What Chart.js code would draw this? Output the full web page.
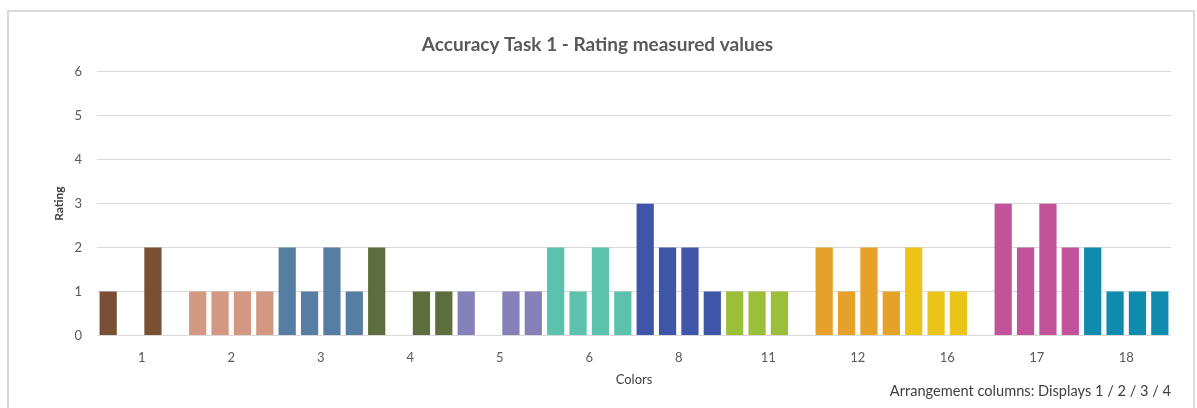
<!DOCTYPE html>
<html lang="en">
<head>
    <meta charset="UTF-8">
    <title>Accuracy Task 1 - Rating measured values</title>
    <script src="https://cdn.jsdelivr.net/npm/chart.js"></script>
    <style>
        html, body { margin: 0; padding: 0; background: #fff; }
        #wrap { position: relative; width: 1197px; height: 408px; }
        #frame {
            position: absolute; left: 7px; top: 10px; width: 1184px; height: 400px;
            border: 2px solid #d9d9d9; border-bottom: none; pointer-events: none;
        }
    </style>
</head>
<body>
    <div id="wrap">
        <canvas id="barChart" width="1197" height="408"></canvas>
        <div id="frame"></div>
    </div>
    <script>
        // colour numbers on the x axis
        const colorLabels = ['1', '2', '3', '4', '5', '6', '8', '11', '12', '16', '17', '18'];
        // one bar colour per colour number
        const barColors = ['#7a5034', '#d39882', '#567ea3', '#5d6e3c', '#8680b8', '#5cc2ad',
                           '#3f56a8', '#9cbf3b', '#e6a12a', '#ecc419', '#c2529a', '#0f8bae'];
        // ratings per display (arrangement columns 1/2/3/4)
        const display1 = [1, 1, 2, 2, 1, 2, 3, 1, 2, 2, 3, 2];
        const display2 = [0, 1, 1, 0, 0, 1, 2, 1, 1, 1, 2, 1];
        const display3 = [2, 1, 2, 1, 1, 2, 2, 1, 2, 1, 3, 1];
        const display4 = [0, 1, 1, 1, 1, 1, 1, 0, 1, 0, 2, 1];
        const yTicks = [0, 1, 2, 3, 4, 5, 6];

        const font = 'Lato, "Open Sans", sans-serif';
        const grey = '#595959';

        const makeSet = (name, values) => ({
            label: name,
            data: values,
            backgroundColor: barColors,
            borderWidth: 0,
            categoryPercentage: 1.0,
            barPercentage: 0.77
        });

        const ctx = document.getElementById('barChart').getContext('2d');
        const barChart = new Chart(ctx, {
            type: 'bar',
            data: {
                labels: colorLabels,
                datasets: [
                    makeSet('Display 1', display1),
                    makeSet('Display 2', display2),
                    makeSet('Display 3', display3),
                    makeSet('Display 4', display4)
                ]
            },
            options: {
                responsive: false,
                animation: false,
                layout: { padding: { left: 24, right: 26, top: 0, bottom: 0 } },
                plugins: {
                    legend: { display: false },
                    tooltip: { enabled: false },
                    title: {
                        display: true,
                        text: 'Accuracy Task 1 - Rating measured values',
                        color: grey,
                        font: { family: font, size: 19, weight: 'bold', lineHeight: 1.2 },
                        padding: { top: 33, bottom: 16 }
                    },
                    subtitle: {
                        display: true,
                        position: 'bottom',
                        align: 'end',
                        text: 'Arrangement columns: Displays 1 / 2 / 3 / 4',
                        color: '#404040',
                        font: { family: font, size: 14.6, lineHeight: 1.2 },
                        padding: { top: -5, bottom: 8 }
                    }
                },
                scales: {
                    x: {
                        grid: { display: false, drawTicks: false },
                        border: { display: false },
                        ticks: { color: grey, font: { family: font, size: 13 }, padding: 15 },
                        title: {
                            display: true, text: 'Colors', color: '#404040',
                            font: { family: font, size: 13 }, padding: { top: 4, bottom: 0 }
                        },
                        afterFit: (scale) => { scale.height = 52; }
                    },
                    y: {
                        min: 0,
                        max: 6,
                        afterBuildTicks: (scale) => { scale.ticks = yTicks.map(v => ({ value: v })); },
                        grid: { color: '#d9d9d9', lineWidth: 1, drawTicks: false },
                        border: { display: false },
                        ticks: { color: grey, font: { family: font, size: 13 }, padding: 15 },
                        title: {
                            display: true, text: 'Rating', color: '#404040',
                            font: { family: font, size: 12, weight: 'bold' }, padding: { top: 28, bottom: 0 }
                        },
                        afterFit: (scale) => { scale.width = 73; }
                    }
                }
            }
        });
    </script>
</body>
</html>
